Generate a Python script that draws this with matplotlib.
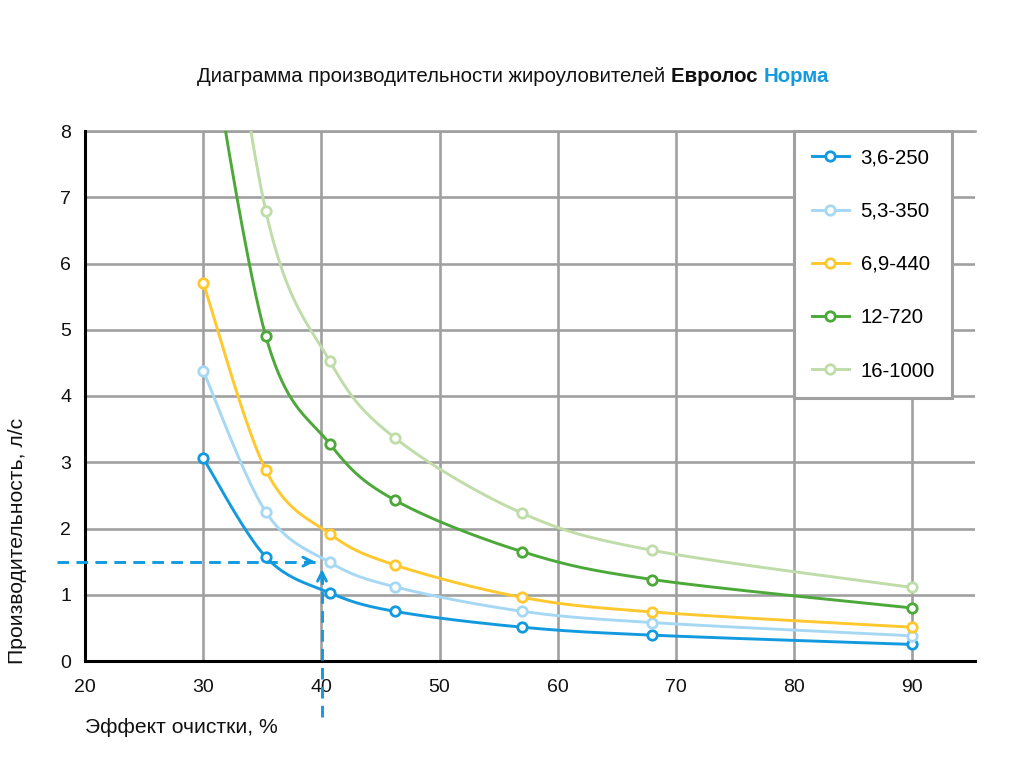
import numpy as np
import matplotlib
matplotlib.use("Agg")
import matplotlib.pyplot as plt

plt.rcParams['font.family'] = ['Liberation Sans', 'DejaVu Sans']

# ДАННЫЕ ###############################################################################################################
effect = [30, 35.3, 40.7, 46.2, 57.0, 68.0, 90.0]

labels = ['3,6-250', '5,3-350', '6,9-440', '12-720', '16-1000']
q_36_250 = [3.06, 1.57, 1.03, 0.75, 0.51, 0.39, 0.25]
q_53_350 = [4.38, 2.25, 1.49, 1.12, 0.75, 0.58, 0.38]
q_69_440 = [5.71, 2.88, 1.92, 1.45, 0.96, 0.74, 0.51]
q_12_720 = [10.0, 4.90, 3.28, 2.43, 1.65, 1.23, 0.80]   # первая точка за пределами графика
q_16_1000 = [13.0, 6.79, 4.53, 3.37, 2.23, 1.67, 1.11]  # первая точка за пределами графика
series = [q_36_250, q_53_350, q_69_440, q_12_720, q_16_1000]
colors = ['#139ade', '#a6d8f4', '#ffc82e', '#4ba839', '#bfdca9']

x_ticks = [20, 30, 40, 50, 60, 70, 80, 90]
y_ticks = [0, 1, 2, 3, 4, 5, 6, 7, 8]

# пример подбора: 1,5 л/с при 40 %
guide_q = 1.5
guide_effect = 40

xmin, xmax = 20, 95.3
ymin, ymax = 0, 8

grid_color = '#a0a0a0'


def smooth(xs, ys, sx, sy, n=40):
    # сглаживание как в Excel (Catmull-Rom через кривые Безье) в экранных единицах
    p = np.column_stack([np.asarray(xs) * sx, np.asarray(ys) * sy])
    p = np.vstack([p[0], p, p[-1]])
    out = []
    t = np.linspace(0, 1, n)[:, None]
    for i in range(1, len(p) - 2):
        p0, p1, p2, p3 = p[i - 1], p[i], p[i + 1], p[i + 2]
        c1 = p1 + (p2 - p0) / 6
        c2 = p2 - (p3 - p1) / 6
        b = ((1 - t) ** 3) * p1 + 3 * ((1 - t) ** 2) * t * c1 + 3 * (1 - t) * t ** 2 * c2 + t ** 3 * p2
        out.append(b)
    out = np.vstack(out)
    return out[:, 0] / sx, out[:, 1] / sy


fig = plt.figure(figsize=(10.24, 7.57), dpi=100)
ax = fig.add_axes([85 / 1024, 1 - 661 / 757, 890 / 1024, 530 / 757])

sx = 890 / (xmax - xmin)
sy = 530 / (ymax - ymin)

for ys, lab, col in zip(series, labels, colors):
    xx, yy = smooth(effect, ys, sx, sy)
    ax.plot(xx, yy, color=col, lw=2.1, zorder=3, solid_capstyle='round')
    ax.plot(effect, ys, ls='none', marker='o', ms=6.8, mfc='white', mec=col, mew=2.0, zorder=4)
    ax.plot([], [], color=col, lw=2.1, marker='o', ms=6.8, mfc='white', mec=col, mew=2.0, label=lab)

ax.set_xlim(xmin, xmax)
ax.set_ylim(ymin, ymax)
ax.set_xticks(x_ticks)
ax.set_yticks(y_ticks)
ax.grid(True, color=grid_color, lw=1.9)
ax.set_axisbelow(True)
ax.tick_params(length=0, labelsize=14, pad=10, labelcolor='#111111')
ax.tick_params(axis='x', pad=13)

for s in ['left', 'bottom']:
    ax.spines[s].set_linewidth(2.2)
    ax.spines[s].set_color('black')
    ax.spines[s].set_zorder(5)
ax.spines['right'].set_visible(False)
ax.spines['top'].set_color(grid_color)
ax.spines['top'].set_linewidth(1.9)

# пунктирные стрелки
blue = '#139ade'
ax.plot([17.6, guide_effect - 0.4], [guide_q, guide_q], ls=(0, (4, 2.5)), color=blue, lw=2.1,
        clip_on=False, zorder=6)
ax.plot([guide_effect + 0.05, guide_effect + 0.05], [-0.85, guide_q - 0.1], ls=(0, (4, 2.5)), color=blue, lw=2.1,
        clip_on=False, zorder=6)
ax.annotate('', xy=(guide_effect - 0.3, guide_q), xytext=(guide_effect - 1.5, guide_q),
            arrowprops=dict(arrowstyle='->', color=blue, lw=2.1, mutation_scale=16), zorder=6)
ax.annotate('', xy=(guide_effect + 0.05, guide_q - 0.07), xytext=(guide_effect + 0.05, guide_q - 0.35),
            arrowprops=dict(arrowstyle='->', color=blue, lw=2.1, mutation_scale=16), zorder=6)

ax.set_ylabel('Производительность, л/с', fontsize=15.2, color='#111111', va='center')
ax.yaxis.set_label_coords(-0.0753, 0.226)
ax.set_xlabel('Эффект очистки, %', fontsize=15.2, loc='left', va='center', color='#111111')
ax.xaxis.set_label_coords(0.0, -0.126)

leg = ax.legend(loc='upper left', bbox_to_anchor=(80, 8), bbox_transform=ax.transData,
                borderaxespad=0, fancybox=False, framealpha=1, edgecolor=grid_color,
                fontsize=14.7, labelspacing=1.68, handlelength=1.85, handletextpad=0.55,
                borderpad=0.85)
leg.get_frame().set_linewidth(2.2)
leg.set_zorder(7)

# заголовок из трёх частей
parts = [('Диаграмма производительности жироуловителей ', 'normal', '#111111'),
         ('Евролос ', 'bold', '#111111'),
         ('Норма', 'bold', '#139ade')]
renderer = fig.canvas.get_renderer()
texts = []
for txt, w, c in parts:
    t = fig.text(0, 1 - 76 / 757, txt, fontsize=14.7, fontweight=w, color=c, va='center', ha='left')
    texts.append(t)
widths = [t.get_window_extent(renderer).width for t in texts]
x0 = 513 - sum(widths) / 2
for t, w in zip(texts, widths):
    t.set_x(x0 / 1024)
    x0 += w

fig.savefig('out.png', dpi=100)
